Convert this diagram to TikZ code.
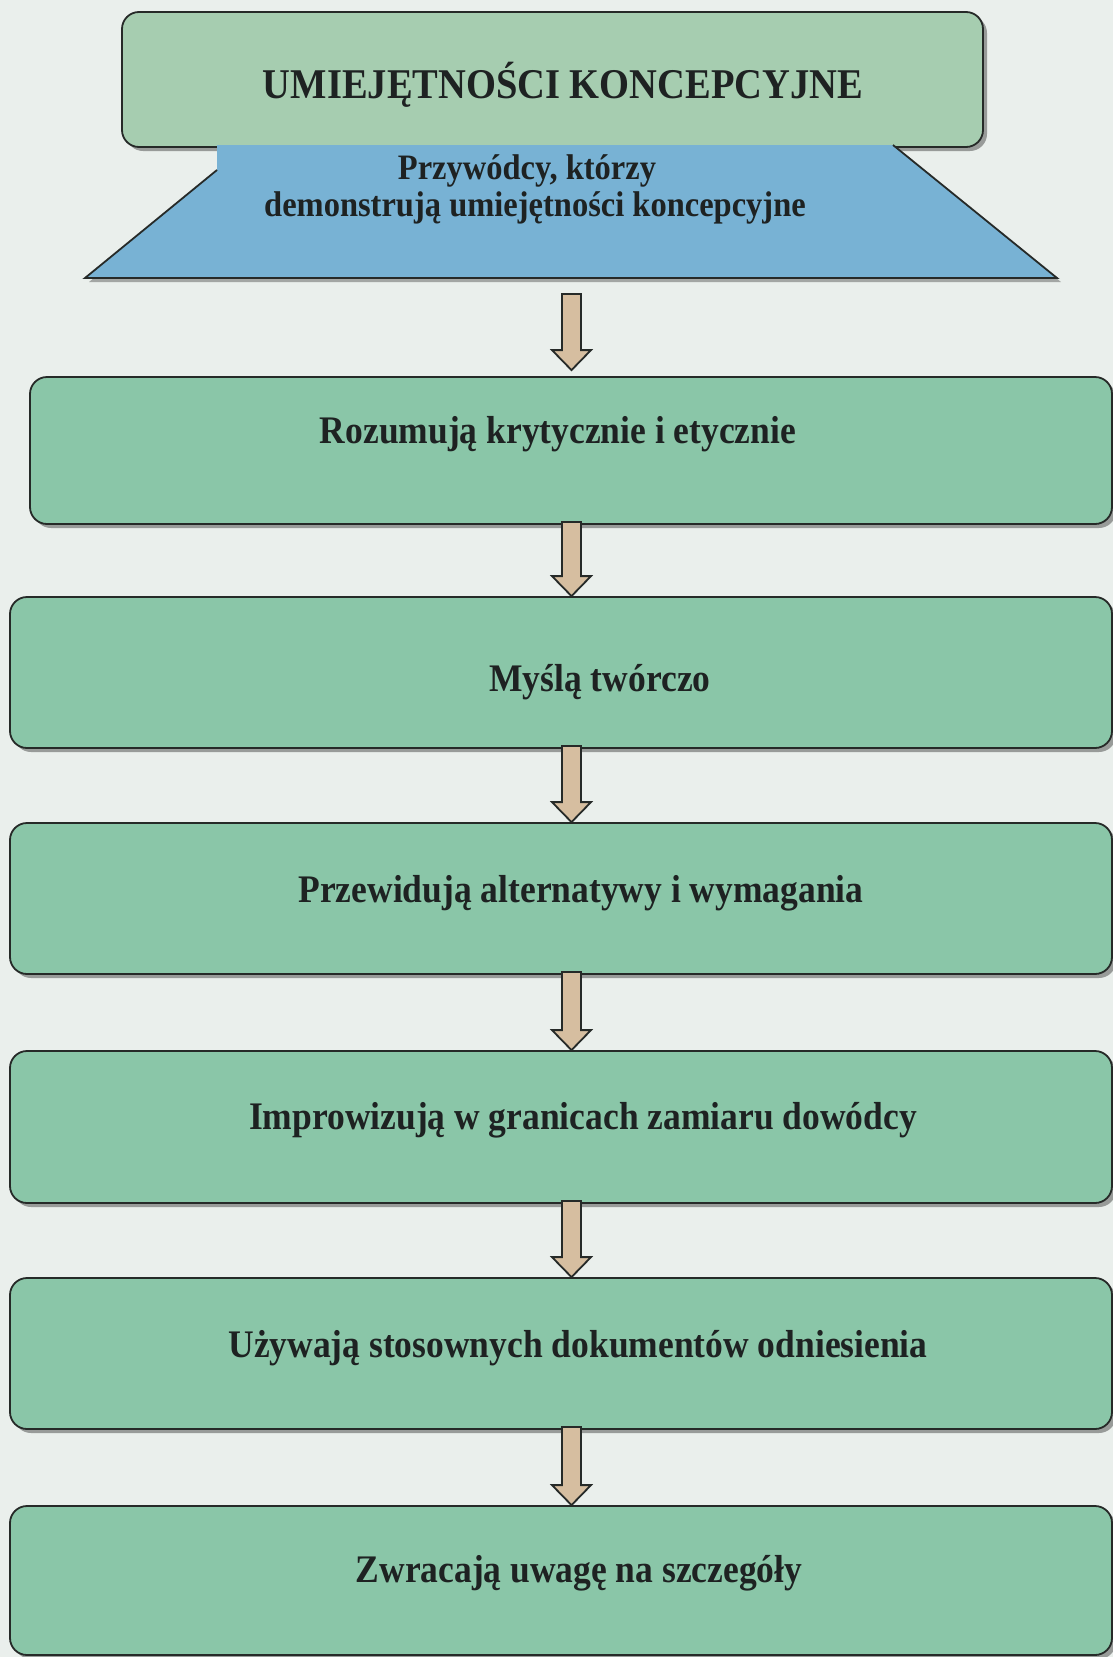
\documentclass[tikz,border=0pt]{standalone}
\usepackage{fontspec}
\usepackage{graphicx}
\setmainfont{Liberation Serif}
\usetikzlibrary{calc,shadows}
\definecolor{pagebg}{RGB}{234,239,236}
\definecolor{titlegreen}{RGB}{166,205,176}
\definecolor{stepgreen}{RGB}{138,198,168}
\definecolor{trapblue}{RGB}{120,178,212}
\definecolor{arrowtan}{RGB}{214,190,160}
\definecolor{edge}{RGB}{38,42,40}
\definecolor{ink}{RGB}{30,34,34}

% slightly tall bold lettering
\newcommand\tall[1]{\scalebox{1}[1.1]{#1}}

% block arrow from the lower edge of #1 to the upper edge of #2;
% #3 moves the tail down, #4 moves the tip down
\newcommand\flowarrow[4]{%
  \draw[flow] let \p1=(#1), \p2=(#2) in
    (562pt,{\y1-#3}) -- (581pt,{\y1-#3}) -- (581pt,{\y2-#4+20pt})
    -- (591pt,{\y2-#4+20pt}) -- (571.5pt,{\y2-#4}) -- (552pt,{\y2-#4+20pt})
    -- (562pt,{\y2-#4+20pt}) -- cycle;}

\begin{document}
\begin{tikzpicture}[x=1pt,y=-1pt,
  card/.style={draw=edge, line width=1.8pt, rounded corners=17pt, inner sep=0pt,
    drop shadow={shadow xshift=4pt, shadow yshift=-4pt, fill=black, opacity=0.35}},
  stepbox/.style={card, fill=stepgreen},
  steptext/.style={font=\fontsize{35.5}{42}\selectfont\bfseries, text=ink, inner sep=0pt},
  traptext/.style={font=\fontsize{32.5}{38}\selectfont\bfseries, text=ink, inner sep=0pt},
  flow/.style={draw=edge, line width=1.8pt, fill=arrowtan, line join=miter}
]
% page
\fill[pagebg] (0,0) rectangle (1113,1657);
\useasboundingbox (0,0) rectangle (1113,1657);

% title card
\node[card, fill=titlegreen, minimum width=861pt, minimum height=135pt] (title) at (552.5,79.5) {};
\node[font=\fontsize{38.5}{44}\selectfont\bfseries, text=ink, inner sep=0pt] (titletext) at (563,85) {\tall{UMIEJĘTNOŚCI KONCEPCYJNE}};

% trapezoid under the title card
\fill[black, opacity=0.3] (221,149) -- (897,149) -- (1061,282) -- (89,282) -- (221,174) -- cycle;
\fill[trapblue] (217,145) -- (893,145) -- (1057,278) -- (85,278) -- (217,170) -- cycle;
\draw[edge, line width=1.8pt, line join=miter] (217,170) -- (85,278) -- (1057,278) -- (893,145);
\coordinate (trapbase) at (571,278);
\node[traptext] (trapline1) at (527,171) {\tall{Przywódcy, którzy}};
\node[traptext] (trapline2) at (535,208) {\tall{demonstrują umiejętności koncepcyjne}};

% step cards
\node[stepbox, minimum width=1082pt, minimum height=147pt] (s1) at (571,450.5) {};
\node[stepbox, minimum width=1102pt, minimum height=151pt] (s2) at (561,672.5) {};
\node[stepbox, minimum width=1102pt, minimum height=151pt] (s3) at (561,898.5) {};
\node[stepbox, minimum width=1102pt, minimum height=152pt] (s4) at (561,1127) {};
\node[stepbox, minimum width=1102pt, minimum height=151pt] (s5) at (561,1353.5) {};
\node[stepbox, minimum width=1102pt, minimum height=149pt] (s6) at (561,1580.5) {};

\node[steptext] (t1) at (558,434) {\tall{Rozumują krytycznie i etycznie}};
\node[steptext] (t2) at (600,682) {\tall{Myślą twórczo}};
\node[steptext] (t3) at (581,893) {\tall{Przewidują alternatywy i wymagania}};
\node[steptext] (t4) at (583,1120) {\tall{Improwizują w granicach zamiaru dowódcy}};
\node[steptext] (t5) at (578,1348) {\tall{Używają stosownych dokumentów odniesienia}};
\node[steptext] (t6) at (579,1573) {\tall{Zwracają uwagę na szczegóły}};

% arrows between the stages
\flowarrow{trapbase}{s1.north}{16pt}{-6pt}
\flowarrow{s1.south}{s2.north}{-3pt}{0pt}
\flowarrow{s2.south}{s3.north}{-3pt}{0pt}
\flowarrow{s3.south}{s4.north}{-3pt}{0pt}
\flowarrow{s4.south}{s5.north}{-3pt}{0pt}
\flowarrow{s5.south}{s6.north}{-3pt}{0pt}
\end{tikzpicture}
\end{document}
